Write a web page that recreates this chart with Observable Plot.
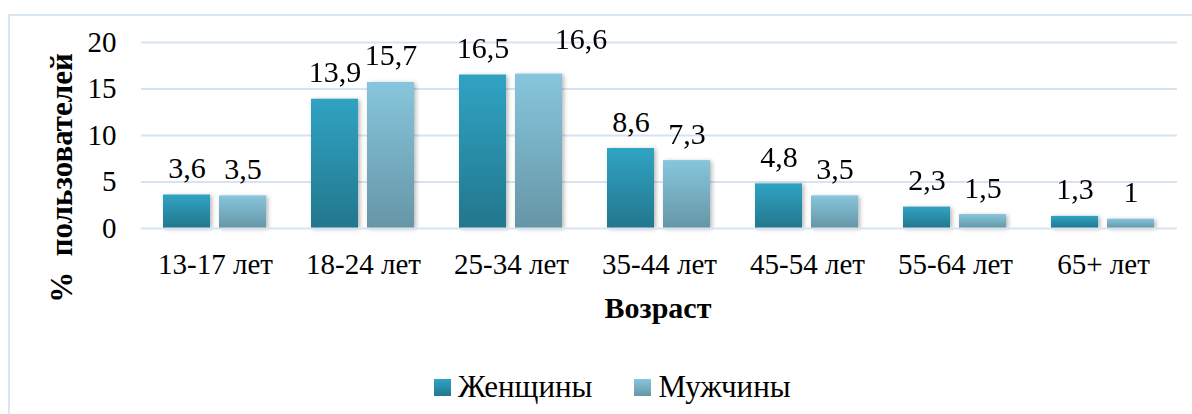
<!DOCTYPE html>
<html><head><meta charset="utf-8">
<script src="https://cdn.jsdelivr.net/npm/d3@7"></script>
<script src="https://cdn.jsdelivr.net/npm/@observablehq/plot@0.6"></script>
<style>
body{margin:0;background:#fff;font-family:"Liberation Serif","Times New Roman",serif;color:#000;}
#wrap{position:relative;width:1192px;height:414px;overflow:hidden;}
#frame{position:absolute;left:8px;top:14px;width:1400px;height:600px;border-left:2px solid #DAE6F4;border-top:2px solid #DAE6F4;}
#chart{position:absolute;left:0;top:0;}
.ttl{position:absolute;font-weight:bold;font-size:30px;line-height:30px;white-space:pre;}
#ylab{left:62px;top:178px;font-size:31px;transform:translate(-50%,-50%) rotate(-90deg);}
#xlab{left:658px;top:293px;transform:translateX(-50%);}
#legend{position:absolute;left:434px;top:372px;display:flex;align-items:center;font-size:31px;line-height:30px;}
.sw{width:17px;height:17px;margin-right:7px;}
.item{display:flex;align-items:center;margin-right:42px;}
</style>
</head><body>
<div id="wrap">
  <div id="frame"></div>
  <div id="chart"></div>
  <div class="ttl" id="ylab"></div>
  <div class="ttl" id="xlab"></div>
  <div id="legend"></div>
</div>
<script>
const categories = ["13-17 лет", "18-24 лет", "25-34 лет", "35-44 лет", "45-54 лет", "55-64 лет", "65+ лет"];
const series = ["Женщины", "Мужчины"];
const women = [3.6, 13.9, 16.5, 8.6, 4.8, 2.3, 1.3];
const men = [3.5, 15.7, 16.6, 7.3, 3.5, 1.5, 1];
const yTicks = [0, 5, 10, 15, 20];
const yTitle = "%  пользователей";
const xTitle = "Возраст";
const grads = [["#30A3C3", "#22778D"], ["#86C6DD", "#6696A6"]];
// one data label moved aside in the original to avoid overlap
const nudge = {cat: "25-34 лет", sex: "Мужчины", dx: 42, dy: -8};

const data = categories.flatMap((c, i) => [
  {cat: c, sex: series[0], v: women[i]},
  {cat: c, sex: series[1], v: men[i]}
]);
const fmt = v => String(v).replace(".", ",");
const isNudged = d => d.cat === nudge.cat && d.sex === nudge.sex;

const chart = Plot.plot({
  width: 1192, height: 340,
  marginLeft: 140, marginRight: 15, marginTop: 42, marginBottom: 112,
  style: {fontFamily: "Liberation Serif, Times New Roman, serif", fontSize: "29px", color: "#000", background: "transparent", overflow: "visible"},
  fx: {domain: categories, padding: 0, label: null, axis: "bottom", tickSize: 0, tickPadding: 25},
  x: {domain: series, paddingInner: 0.16, paddingOuter: 0.4, axis: null},
  y: {domain: [0, 20], ticks: yTicks, label: null, tickSize: 0, tickPadding: 25},
  color: {domain: series, range: ["url(#gW)", "url(#gM)"]},
  marks: [
    Plot.ruleY(yTicks.filter(t => t > 0), {stroke: "#D7E3F2", strokeWidth: 2}),
    Plot.barY(data, {fx: "cat", x: "sex", y: "v", fill: "sex"}),
    Plot.ruleY([0], {stroke: "#D7E3F2", strokeWidth: 2}),
    Plot.text(data.filter(d => !isNudged(d)), {fx: "cat", x: "sex", y: "v", text: d => fmt(d.v), dy: -17, lineAnchor: "bottom", fontSize: 30, fill: "#000"}),
    Plot.text(data.filter(isNudged), {fx: "cat", x: "sex", y: "v", text: d => fmt(d.v), dx: nudge.dx, dy: -17 + nudge.dy, lineAnchor: "bottom", fontSize: 30, fill: "#000"})
  ]
});

const svg = d3.select(chart);
const defs = svg.insert("defs", ":first-child");
[["gW", grads[0]], ["gM", grads[1]]].forEach(([id, [a, b]]) => {
  const g = defs.append("linearGradient").attr("id", id).attr("x1", 0).attr("y1", 0).attr("x2", 0).attr("y2", 1);
  g.append("stop").attr("offset", "0%").attr("stop-color", a);
  g.append("stop").attr("offset", "100%").attr("stop-color", b);
});
svg.selectAll('g[aria-label="bar"]').style("filter", "drop-shadow(2px 1px 2px rgba(0,0,0,0.28))");
document.getElementById("chart").appendChild(chart);

document.getElementById("ylab").textContent = yTitle;
document.getElementById("xlab").textContent = xTitle;
const leg = document.getElementById("legend");
series.forEach((s, i) => {
  const it = document.createElement("div"); it.className = "item";
  const sw = document.createElement("div"); sw.className = "sw";
  sw.style.background = `linear-gradient(${grads[i][0]}, ${grads[i][1]})`;
  const t = document.createElement("span"); t.textContent = s;
  it.appendChild(sw); it.appendChild(t); leg.appendChild(it);
});
</script>
</body></html>
